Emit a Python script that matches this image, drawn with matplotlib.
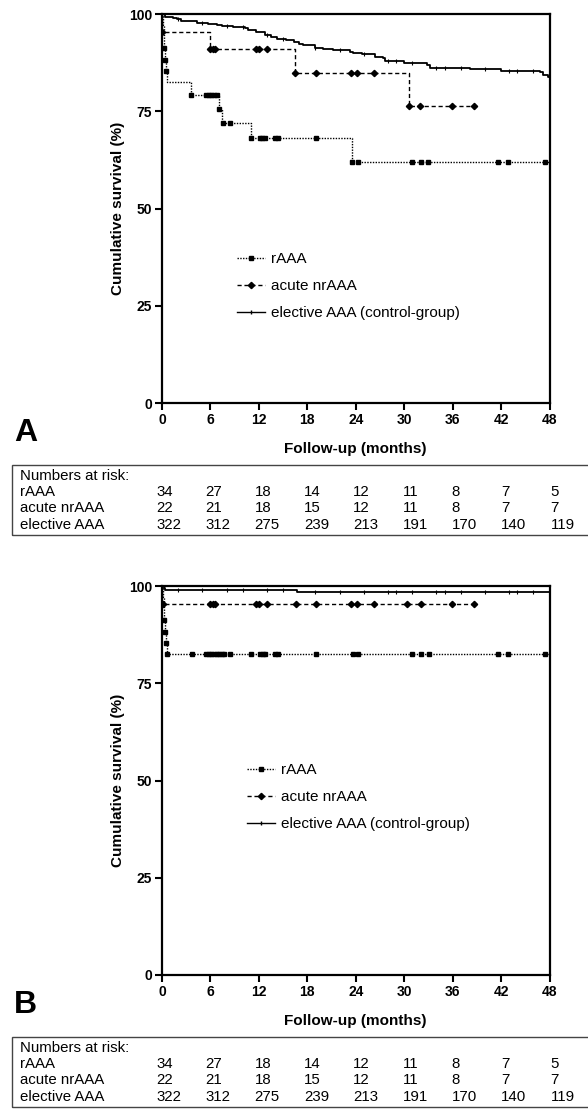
import numpy as np
import matplotlib
matplotlib.use("Agg")
import matplotlib.pyplot as plt
from matplotlib.lines import Line2D
from matplotlib.patches import Rectangle

plt.rcParams['font.family'] = ['Liberation Sans', 'DejaVu Sans']

W, H = 588, 1110

# ---- panel A: follow-up survival ----
rAAA_t_A = [0, 0.1, 0.2, 0.3, 0.4, 0.5, 0.6, 3.6, 7.05, 7.4, 11.0, 23.5, 48]
rAAA_s_A = [100, 97.1, 94.1, 91.2, 88.2, 85.3, 82.4, 79.3, 75.7, 72.1, 68.1, 61.9, 61.9]
rAAA_c_A = [0.3, 0.4, 0.5, 3.6, 5.5, 5.8, 6.1, 6.4, 6.8, 7.05, 7.5, 8.4, 11.0, 12.1, 12.4,
            12.7, 14.0, 14.4, 19.1, 23.5, 24.3, 31.0, 32.1, 33.0, 41.6, 42.8, 47.5]

acute_t_A = [0, 0.05, 6.0, 16.5, 30.6, 38.7]
acute_s_A = [100, 95.45, 90.9, 84.9, 76.4, 76.4]
acute_c_A = [0.05, 6.0, 6.3, 6.6, 11.7, 12.0, 13.0, 16.5, 19.1, 23.4, 24.2, 26.2,
             30.6, 32.0, 35.9, 38.7]

elec_t_A = [0, 0.4, 1.4, 1.8, 2.4, 4.3, 5.7, 6.8, 7.4, 8.8, 10.3, 10.7, 11.7, 12.7, 13.5,
            14.2, 15.4, 16.3, 17.0, 17.5, 18.9, 20.0, 21.2, 23.3, 23.7, 24.8, 26.4, 27.4,
            27.6, 30.0, 32.8, 33.2, 38.1, 42.0, 46.8, 47.2, 47.8, 48]
elec_s_A = [100, 99.3, 99.1, 98.7, 98.3, 97.8, 97.4, 97.2, 96.9, 96.6, 96.3, 95.9, 95.3, 94.6, 94.1,
            93.7, 93.3, 92.9, 92.4, 92.0, 91.3, 91.0, 90.7, 90.3, 89.9, 89.7, 89.0, 88.6,
            88.0, 87.5, 86.9, 86.2, 85.8, 85.4, 85.1, 84.3, 83.7, 83.7]

# ---- panel B: 30-day mortality excluded ----
rAAA_t_B = [0, 0.1, 0.2, 0.3, 0.4, 0.5, 0.6, 48]
rAAA_s_B = [100, 97.1, 94.1, 91.2, 88.2, 85.3, 82.4, 82.4]
rAAA_c_B = [0.3, 0.4, 0.5, 0.6, 3.7, 5.5, 5.8, 6.1, 6.4, 6.8, 7.05, 7.4, 7.7, 8.4, 11.0, 12.1,
            12.5, 12.7, 14.0, 14.4, 19.1, 23.6, 24.3, 31.0, 32.1, 33.1, 41.6, 42.8, 47.5]

acute_t_B = [0, 0.05, 38.7]
acute_s_B = [100, 95.45, 95.45]
acute_c_B = [0.1, 5.9, 6.3, 6.6, 11.7, 12.0, 13.0, 16.6, 19.1, 23.4, 24.2, 26.2, 30.4,
             32.1, 35.9, 38.7]

elec_t_B = [0, 0.2, 0.4, 16.7, 48]
elec_s_B = [100, 99.4, 99.1, 98.5, 98.5]

elec_c = [2, 5, 8, 10, 13, 15, 19, 22, 25, 28, 29, 31, 34, 35, 37, 40, 43, 44, 46]

# numbers at risk
risk_times = [0, 6, 12, 18, 24, 30, 36, 42, 48]
risk_rows = ["rAAA", "acute nrAAA", "elective AAA"]
risk_rAAA = [34, 27, 18, 14, 12, 11, 8, 7, 5]
risk_acute = [22, 21, 18, 15, 12, 11, 8, 7, 7]
risk_elec = [322, 312, 275, 239, 213, 191, 170, 140, 119]

fig = plt.figure(figsize=(W / 100, H / 100), dpi=100)


def fx(px):
    return px / W


def fy(py):
    return 1 - py / H


def surv_at(t, s, c):
    idx = np.searchsorted(t, c, side="right") - 1
    return np.array(s)[idx]


def panel(top, ts, letter, leg_x, leg_y):
    ax = fig.add_axes([fx(162), fy(top + 389), fx(549.5) - fx(162), 389 / H])
    (rt, rs, rc), (at, as_, ac), (et, es, ec) = ts
    ax.step(rt, rs, where="post", color="black", lw=1.0, ls=(0, (1, 1)))
    ax.plot(rc, surv_at(rt, rs, rc), "s", color="black", ms=3.0, ls="none")
    ax.step(at, as_, where="post", color="black", lw=1.0, ls=(0, (3, 2)))
    ax.plot(ac, surv_at(at, as_, ac), "D", color="black", ms=3.2, ls="none")
    ax.step(et, es, where="post", color="black", lw=1.3, ls="-")
    ax.plot(ec, surv_at(et, es, ec), "|", color="black", ms=2.5, mew=0.8, ls="none")

    ax.set_xlim(0, 48)
    ax.set_ylim(0, 100)
    ax.set_xticks(risk_times)
    ax.set_yticks([0, 25, 50, 75, 100])
    for sp in ax.spines.values():
        sp.set_linewidth(1.6)
    ax.tick_params(width=1.5, length=5, labelsize=10, pad=2)
    for lab in ax.get_xticklabels() + ax.get_yticklabels():
        lab.set_fontweight("bold")
    ax.set_xlabel("Follow-up (months)", fontsize=11, fontweight="bold")
    ax.set_ylabel("Cumulative survival (%)", fontsize=11, fontweight="bold")
    ax.xaxis.set_label_coords(0.5, -0.1)
    ax.yaxis.set_label_coords(-0.095, 0.5)

    handles = [
        Line2D([], [], color="black", lw=1.0, ls=(0, (1, 1)), marker="s", ms=3.0),
        Line2D([], [], color="black", lw=1.0, ls=(0, (3, 2)), marker="D", ms=3.2),
        Line2D([], [], color="black", lw=1.0, ls="-", marker="|", ms=2.5),
    ]
    ax.legend(handles, ["rAAA", "acute nrAAA", "elective AAA (control-group)"],
              loc="center left", bbox_to_anchor=(fx(leg_x), fy(leg_y)),
              bbox_transform=fig.transFigure, frameon=False, fontsize=11,
              handlelength=1.8, handletextpad=0.45, labelspacing=0.85,
              borderpad=0, borderaxespad=0)
    fig.text(fx(14), fy(top + 419), letter, fontsize=23, fontweight="bold",
             ha="left", va="center")
    return ax


def risk_table(top):
    fig.patches.append(Rectangle((fx(12), fy(top + 70)), fx(600) - fx(12), 70 / H,
                                 transform=fig.transFigure, fill=False,
                                 edgecolor="#444444", lw=1.0))
    fig.text(fx(20), fy(top + 11), "Numbers at risk:", fontsize=10.8, va="center")
    rows = [risk_rAAA, risk_acute, risk_elec]
    for i, (name, vals) in enumerate(zip(risk_rows, rows)):
        y = fy(top + 27 + 16.5 * i)
        fig.text(fx(20), y, name, fontsize=10.8, va="center")
        for k, v in enumerate(vals):
            fig.text(fx(156 + 49.3 * k), y, str(v), fontsize=10.8, va="center")


panel(14, [(rAAA_t_A, rAAA_s_A, rAAA_c_A), (acute_t_A, acute_s_A, acute_c_A),
           (elec_t_A, elec_s_A, elec_c)], "A", 237, 286)
risk_table(465)
panel(586, [(rAAA_t_B, rAAA_s_B, rAAA_c_B), (acute_t_B, acute_s_B, acute_c_B),
            (elec_t_B, elec_s_B, elec_c)], "B", 247, 797)
risk_table(1037)

fig.savefig("out.png", dpi=100)
